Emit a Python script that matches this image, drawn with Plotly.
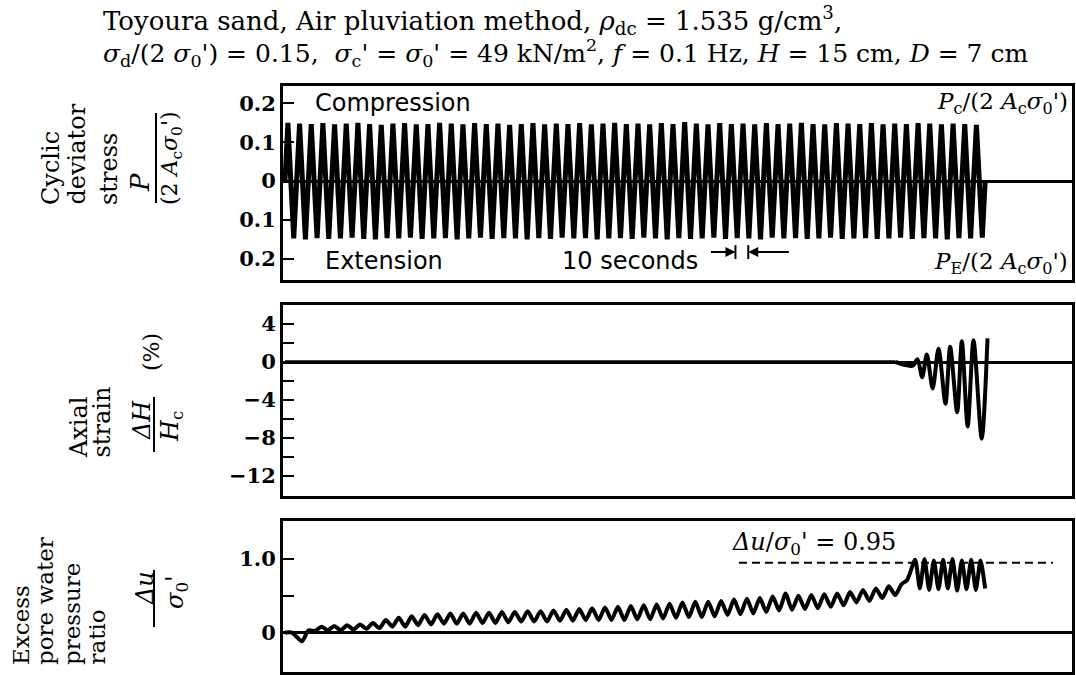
import plotly.graph_objects as go

# ---------------- data ----------------
# time axis in seconds (f = 0.1 Hz -> 10 s per loading cycle)
STRESS_PERIOD = 10.0
stress_comp = [0.150, 0.148, 0.147, 0.149, 0.146, 0.148, 0.150, 0.147, 0.145, 0.148,
               0.149, 0.146, 0.147, 0.150, 0.148, 0.146, 0.149, 0.147, 0.148, 0.145,
               0.147, 0.149, 0.146, 0.148, 0.147, 0.149, 0.146, 0.148, 0.150, 0.147,
               0.148, 0.146, 0.149, 0.147, 0.152, 0.148, 0.146, 0.149, 0.147, 0.148,
               0.146, 0.149, 0.147, 0.148, 0.150, 0.147, 0.146, 0.149, 0.148, 0.147,
               0.149, 0.146, 0.148, 0.147, 0.149, 0.148, 0.146, 0.148, 0.147, 0.145]
stress_ext = [0.148, 0.150, 0.147, 0.149, 0.148, 0.146, 0.149, 0.150, 0.147, 0.148,
              0.146, 0.149, 0.148, 0.147, 0.150, 0.148, 0.146, 0.149, 0.147, 0.148,
              0.150, 0.147, 0.149, 0.146, 0.148, 0.147, 0.150, 0.148, 0.147, 0.149,
              0.146, 0.148, 0.150, 0.147, 0.149, 0.148, 0.146, 0.149, 0.147, 0.148,
              0.150, 0.146, 0.148, 0.147, 0.149, 0.148, 0.146, 0.149, 0.148, 0.147,
              0.149, 0.148, 0.146, 0.149, 0.147, 0.148, 0.150, 0.147, 0.148, 0.146]

# axial strain (%) : time (s), value  (flat part, then the loops)
strain_flat_t = [0, 523]
strain_flat_v = [0.0, 0.0]
strain_t = [523, 531, 538, 542, 546, 550, 555, 560, 566, 570, 576, 580, 585, 590, 597, 602]
strain_v = [0.0, -0.3, -0.4, 0.3, -1.6, 0.8, -2.8, 1.4, -4.4, 1.6, -5.3, 2.2, -6.8, 2.3, -8.1, 2.5]

# excess pore water pressure ratio : one trough / peak per cycle before liquefaction
PP_T0 = 14.6
PP_PERIOD = 11.05
pp_trough = [-0.12, 0.02, 0.03, 0.03, 0.04, 0.05, 0.06, 0.08, 0.08, 0.10,
             0.11, 0.12, 0.12, 0.12, 0.13, 0.13, 0.14, 0.15, 0.15, 0.15,
             0.16, 0.16, 0.17, 0.17, 0.17, 0.17, 0.18, 0.18, 0.19, 0.20,
             0.21, 0.21, 0.22, 0.24, 0.25, 0.26, 0.28, 0.30, 0.31, 0.32,
             0.33, 0.35, 0.37, 0.41, 0.43, 0.47, 0.51]
pp_peak = [0.03, 0.08, 0.09, 0.10, 0.11, 0.13, 0.17, 0.20, 0.22, 0.24,
           0.25, 0.26, 0.26, 0.27, 0.27, 0.28, 0.28, 0.29, 0.29, 0.30,
           0.31, 0.32, 0.33, 0.34, 0.35, 0.36, 0.37, 0.38, 0.39, 0.41,
           0.42, 0.42, 0.43, 0.45, 0.46, 0.47, 0.49, 0.53, 0.50, 0.51,
           0.52, 0.53, 0.55, 0.58, 0.60, 0.63, 0.66]
pp_pre_burst = (533, 0.71)
BURST_T0 = 538
BURST_PERIOD = 8.0
burst_top = [0.99, 1.00, 0.98, 0.99, 1.00, 0.98, 0.99, 0.98]
burst_bottom = [0.60, 0.58, 0.59, 0.60, 0.57, 0.59, 0.58, 0.60]
pp_threshold = 0.95
pp_threshold_span = [389, 658]

ten_sec_marks = [386, 397]

stress_ticks = [0.2, 0.1, 0, -0.1, -0.2]
stress_ticktext = ["0.2", "0.1", "0", "0.1", "0.2"]
strain_ticks = [4, 0, -4, -8, -12]
strain_ticktext = ["4", "0", "\u22124", "\u22128", "\u221212"]
pp_ticks = [0, 0.5, 1.0]
pp_ticktext = ["0", "", "1.0"]

# ---------------- build series ----------------
st_t, st_v = [], []
for i, (c, e) in enumerate(zip(stress_comp, stress_ext)):
    t0 = i * STRESS_PERIOD
    st_t += [t0, t0 + STRESS_PERIOD / 4, t0 + STRESS_PERIOD / 2, t0 + 3 * STRESS_PERIOD / 4]
    st_v += [0, c, 0, -e]
st_t.append(len(stress_comp) * STRESS_PERIOD)
st_v.append(0)

pp_t, pp_v = [0, 6], [0.0, 0.0]
for k, (tr, pk) in enumerate(zip(pp_trough, pp_peak)):
    pp_t += [PP_T0 + k * PP_PERIOD, PP_T0 + (k + 0.5) * PP_PERIOD]
    pp_v += [tr, pk]
pp_t.append(pp_pre_burst[0]); pp_v.append(pp_pre_burst[1])
for k, (tp, bt) in enumerate(zip(burst_top, burst_bottom)):
    pp_t += [BURST_T0 + k * BURST_PERIOD + 2, BURST_T0 + k * BURST_PERIOD + 6]
    pp_v += [tp, bt]

# ---------------- figure ----------------
W, H = 1076, 675
def px(x):
    return x / W
def py(y):
    return 1 - y / H

XR = [-1.7, 674.4]
xdom = [px(283), px(1072)]

fig = go.Figure()
fig.add_trace(go.Scatter(x=st_t, y=st_v, mode="lines", line=dict(color="black", width=5),
                         xaxis="x", yaxis="y", showlegend=False))
fig.add_trace(go.Scatter(x=strain_flat_t, y=strain_flat_v, mode="lines",
                         line=dict(color="black", width=3.5),
                         xaxis="x2", yaxis="y2", showlegend=False))
fig.add_trace(go.Scatter(x=strain_t, y=strain_v, mode="lines",
                         line=dict(color="black", width=4, shape="spline", smoothing=0.8),
                         xaxis="x2", yaxis="y2", showlegend=False))
fig.add_trace(go.Scatter(x=pp_threshold_span, y=[pp_threshold] * 2, mode="lines",
                         line=dict(color="black", width=2, dash="8px,5px"),
                         xaxis="x3", yaxis="y3", showlegend=False))
fig.add_trace(go.Scatter(x=pp_t, y=pp_v, mode="lines",
                         line=dict(color="black", width=4, shape="spline", smoothing=0.6),
                         xaxis="x3", yaxis="y3", showlegend=False))

tickfont = dict(family="DejaVu Serif", size=21, color="black", weight="bold")
xcommon = dict(range=XR, domain=xdom, showticklabels=False, ticks="", showgrid=False,
               zeroline=False, showline=True, linecolor="black", linewidth=3, mirror=True)
ycommon = dict(showgrid=False, zeroline=True, zerolinecolor="black", zerolinewidth=2.5,
               showline=True, linecolor="black", linewidth=3, mirror=True,
               ticks="inside", ticklen=11, tickwidth=2, tickcolor="black",
               tickfont=tickfont, tickmode="array")

fig.update_layout(
    width=W, height=H, margin=dict(l=0, r=0, t=0, b=0),
    paper_bgcolor="white", plot_bgcolor="white",
    xaxis=dict(**xcommon, anchor="y"),
    xaxis2=dict(**xcommon, anchor="y2"),
    xaxis3=dict(**xcommon, anchor="y3"),
    yaxis=dict(**ycommon, anchor="x", domain=[py(280), py(86)], range=[-0.255, 0.245],
               tickvals=stress_ticks, ticktext=stress_ticktext),
    yaxis2=dict(**ycommon, anchor="x2", domain=[py(496), py(305)], range=[-14.15, 6.02],
                tickvals=strain_ticks, ticktext=strain_ticktext,
                minor=dict(tickvals=[2, -2, -6, -10], ticks="inside", ticklen=11,
                           tickwidth=2, tickcolor="black")),
    yaxis3=dict(**ycommon, anchor="x3", domain=[py(672), py(521)], range=[-0.537, 1.517],
                tickvals=pp_ticks, ticktext=pp_ticktext),
)

ann = []
def A(text, x, y, xanchor="center", yanchor="middle", size=24, family="DejaVu Serif",
      angle=0, xref="paper", yref="paper"):
    ann.append(dict(text=text, x=x, y=y, xref=xref, yref=yref, xanchor=xanchor,
                    yanchor=yanchor, showarrow=False, textangle=angle,
                    font=dict(family=family, size=size, color="black")))

# header
A("Toyoura sand, Air pluviation method, <i>ρ</i><sub>dc</sub> = 1.535 g/cm<sup>3</sup>,",
  px(101), py(20), xanchor="left", size=26)
A("<i>σ</i><sub>d</sub>/(2 <i>σ</i><sub>0</sub>') = 0.15,  <i>σ</i><sub>c</sub>' = <i>σ</i><sub>0</sub>' = 49 kN/m<sup>2</sup>, "
  "<i>f</i> = 0.1 Hz, <i>H</i> = 15 cm, <i>D</i> = 7 cm",
  px(101), py(53), xanchor="left", size=25)

# panel 1 texts
A("Compression", px(313), py(103), xanchor="left", family="DejaVu Sans", size=24)
A("Extension", px(323), py(261), xanchor="left", family="DejaVu Sans", size=24)
A("10 seconds", px(560), py(261), xanchor="left", family="DejaVu Sans", size=24)
A("<i>P</i><sub>c</sub>/(2 <i>A</i><sub>c</sub><i>σ</i><sub>0</sub>')", px(1070), py(103),
  xanchor="right", size=23)
A("<i>P</i><sub>E</sub>/(2 <i>A</i><sub>c</sub><i>σ</i><sub>0</sub>')", px(1070), py(263),
  xanchor="right", size=23)

# y-axis titles (rotated)
A("Cyclic", px(51), py(207), yanchor="bottom", angle=-90)
A("deviator", px(77), py(207), yanchor="bottom", angle=-90)
A("stress", px(109), py(207), yanchor="bottom", angle=-90)
A("<i>P</i>", px(140), py(183), angle=-90, size=26)
A("(2 <i>A</i><sub>c</sub><i>σ</i><sub>0</sub>')", px(171), py(158), angle=-90, size=22)

A("Axial", px(79), py(460), yanchor="bottom", angle=-90)
A("strain", px(101), py(460), yanchor="bottom", angle=-90)
A("<i>ΔH</i>", px(142), py(420), angle=-90)
A("<i>H</i><sub>c</sub>", px(171), py(427), angle=-90)
A("(%)", px(152), py(352), angle=-90, size=22)

A("Excess", px(21), py(667), yanchor="bottom", angle=-90, size=23)
A("pore water", px(45), py(667), yanchor="bottom", angle=-90, size=23)
A("pressure", px(72), py(667), yanchor="bottom", angle=-90, size=23)
A("ratio", px(96), py(667), yanchor="bottom", angle=-90, size=23)
A("<i>Δu</i>", px(145), py(588), angle=-90)
A("<i>σ</i><sub>0</sub>'", px(176), py(592), angle=-90)

A("<i>Δu</i>/<i>σ</i><sub>0</sub>' = 0.95", px(730), py(543), xanchor="left", size=24)

# "10 seconds" arrows
arrow_y = -0.183
ann.append(dict(x=ten_sec_marks[0], y=arrow_y, xref="x", yref="y", ax=-26, ay=0,
                showarrow=True, arrowhead=2, arrowsize=1, arrowwidth=2, arrowcolor="black",
                text=""))
ann.append(dict(x=ten_sec_marks[1], y=arrow_y, xref="x", yref="y", ax=42, ay=0,
                showarrow=True, arrowhead=2, arrowsize=1, arrowwidth=2, arrowcolor="black",
                text=""))
fig.update_layout(annotations=ann)

shapes = []
for m in ten_sec_marks:
    shapes.append(dict(type="line", xref="x", yref="y", x0=m, x1=m, y0=arrow_y - 0.018,
                       y1=arrow_y + 0.018, line=dict(color="black", width=2)))
# fraction bars of the axis titles
for (x, y0, y1) in [(156, 113, 203), (154, 397, 452), (154, 570, 627)]:
    shapes.append(dict(type="line", xref="paper", yref="paper", x0=px(x), x1=px(x),
                       y0=py(y0), y1=py(y1), line=dict(color="black", width=2)))
fig.update_layout(shapes=shapes)

fig.write_html("out.html")
